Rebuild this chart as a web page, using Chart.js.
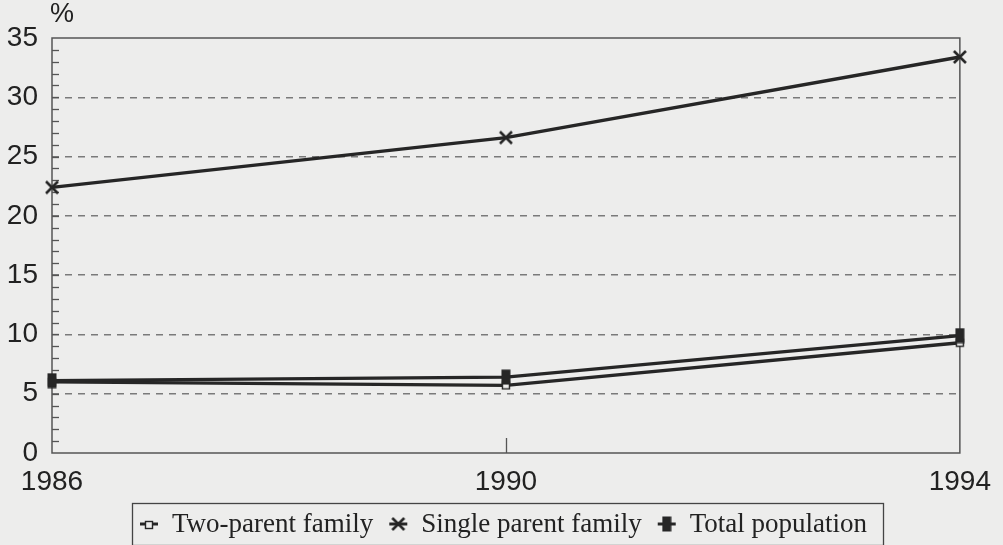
<!DOCTYPE html>
<html>
<head>
<meta charset="utf-8">
<script src="https://cdn.jsdelivr.net/npm/chart.js@4.4.0/dist/chart.umd.min.js"></script>
<style>
html,body{margin:0;padding:0;background:#ededec;}
#wrap{width:1003px;height:545px;position:relative;}
</style>
</head>
<body>
<div id="wrap"><canvas id="c" width="1003" height="545"></canvas></div>
<script>
// ---- data ----
const years = [1986, 1990, 1994];
const twoParent = [6.0, 5.7, 9.3];
const singleParent = [22.4, 26.6, 33.4];
const totalPopulation = [6.1, 6.4, 9.9];
const seriesLabels = ['Two-parent family', 'Single parent family', 'Total population'];
const xTicks = [1986, 1990, 1994];
const yTicks = [0, 5, 10, 15, 20, 25, 30, 35];

const INK = '#262626';
const BG = '#ededec';
const TXT = '#222222';

function mk(w, h, draw) {
  const c = document.createElement('canvas');
  c.width = w; c.height = h;
  draw(c.getContext('2d'));
  return c;
}
const sqMarker = mk(10, 10, g => {
  g.fillStyle = BG; g.fillRect(1, 1, 8, 8);
  g.strokeStyle = INK; g.lineWidth = 1.4; g.strokeRect(1.5, 1.5, 7, 7);
});
const xMarker = mk(16, 16, g => {
  g.strokeStyle = INK; g.lineWidth = 2.6;
  g.beginPath(); g.moveTo(2, 2); g.lineTo(14, 14); g.moveTo(14, 2); g.lineTo(2, 14); g.stroke();
});
const totMarker = mk(10, 16, g => {
  g.fillStyle = INK; g.fillRect(0.5, 0.5, 9, 15);
});
const markers = [sqMarker, xMarker, totMarker];

const pts = arr => years.map((y, i) => ({x: y, y: arr[i]}));

const frame = {
  id: 'frame',
  beforeDatasetsDraw(chart) {
    const {ctx, chartArea: a, scales: {x, y}} = chart;
    ctx.save();
    ctx.strokeStyle = '#555'; ctx.lineWidth = 1.3;
    for (let v = 1; v < 35; v++) {
      const py = Math.round(y.getPixelForValue(v)) + 0.5;
      ctx.beginPath(); ctx.moveTo(a.left, py); ctx.lineTo(a.left + 7, py); ctx.stroke();
    }
    xTicks.slice(1, -1).forEach(v => {
      const px = Math.round(x.getPixelForValue(v)) + 0.5;
      ctx.beginPath(); ctx.moveTo(px, a.bottom); ctx.lineTo(px, a.bottom - 15); ctx.stroke();
    });
    ctx.strokeStyle = '#555'; ctx.lineWidth = 1.5;
    ctx.strokeRect(a.left, a.top, a.right - a.left, a.bottom - a.top);
    ctx.fillStyle = TXT;
    ctx.font = '27px "Liberation Sans"';
    ctx.textAlign = 'center'; ctx.textBaseline = 'middle';
    ctx.fillText('%', 62, 15);
    ctx.restore();
  },
  afterDraw(chart) {
    const {ctx} = chart;
    ctx.save();
    ctx.strokeStyle = '#444'; ctx.lineWidth = 1.3;
    ctx.strokeRect(132.5, 503.5, 751, 42);
    ctx.font = '27px "Liberation Serif"';
    ctx.textBaseline = 'middle'; ctx.textAlign = 'left';
    let cx = 140;
    const ly = 524;
    chart.data.datasets.forEach((ds, i) => {
      ctx.strokeStyle = INK; ctx.lineWidth = 3;
      ctx.beginPath(); ctx.moveTo(cx, ly); ctx.lineTo(cx + 18, ly); ctx.stroke();
      const m = markers[i];
      ctx.drawImage(m, cx + 9 - m.width / 2, ly - m.height / 2 + (i === 0 ? 1 : 0));
      ctx.fillStyle = TXT;
      ctx.fillText(ds.label, cx + 32, ly + 1);
      cx += 32 + ctx.measureText(ds.label).width + 16;
    });
    ctx.restore();
  }
};

new Chart(document.getElementById('c'), {
  type: 'line',
  data: {
    datasets: [
      {label: seriesLabels[0], data: pts(twoParent), borderColor: INK, borderWidth: 3.4,
       pointStyle: sqMarker, pointRadius: 5, order: 2, clip: false},
      {label: seriesLabels[1], data: pts(singleParent), borderColor: INK, borderWidth: 3.4,
       pointStyle: xMarker, pointRadius: 8, order: 1, clip: false},
      {label: seriesLabels[2], data: pts(totalPopulation), borderColor: INK, borderWidth: 3.4,
       pointStyle: totMarker, pointRadius: 8, order: 0, clip: false}
    ]
  },
  options: {
    responsive: false,
    animation: false,
    events: [],
    layout: {padding: {top: 38, right: 37, left: 0, bottom: 0}},
    plugins: {legend: {display: false}, tooltip: {enabled: false}},
    scales: {
      x: {
        type: 'linear', min: 1986, max: 1994,
        afterBuildTicks: s => { s.ticks = xTicks.map(v => ({value: v})); },
        afterFit: s => { s.height = 92; },
        grid: {display: false, drawTicks: false},
        border: {display: false},
        ticks: {color: TXT, padding: 12, font: {family: 'Liberation Sans', size: 28}, maxRotation: 0,
                callback: v => String(v)}
      },
      y: {
        min: 0, max: 35,
        afterBuildTicks: s => { s.ticks = yTicks.map(v => ({value: v})); },
        afterFit: s => { s.width = 52; },
        grid: {drawTicks: false, lineWidth: 1.4,
               color: c => (c.tick && (c.tick.value === 0 || c.tick.value === 35)) ? 'rgba(0,0,0,0)' : '#7a7a7a'},
        border: {display: false, dash: [7, 6]},
        ticks: {color: TXT, padding: 14, font: {family: 'Liberation Sans', size: 28}}
      }
    }
  },
  plugins: [frame]
});
</script>
</body>
</html>
